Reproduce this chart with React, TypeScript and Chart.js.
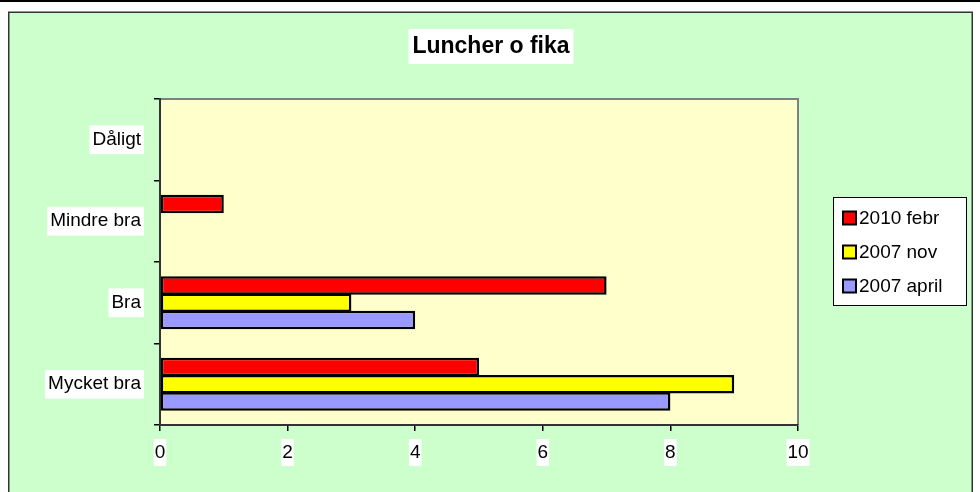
import React, { useEffect, useRef } from 'react';
import { Chart, registerables } from 'chart.js';

Chart.register(...registerables);

const chartTitle = 'Luncher o fika';
const categories = ['Dåligt', 'Mindre bra', 'Bra', 'Mycket bra'];
const seriesNames = ['2010 febr', '2007 nov', '2007 april'];
const febr2010 = [0, 1, 7, 5];
const nov2007 = [0, 0, 3, 9];
const april2007 = [0, 0, 4, 8];
const seriesColors = ['#FF0000', '#FFFF00', '#9999FF'];
const xTicks = [0, 2, 4, 6, 8, 10];

const FONT = 'Arial, "Liberation Sans", sans-serif';

const framePlugin = {
  id: 'excelFrame',
  beforeDraw(chart: any) {
    const { ctx, chartArea: a, width, height } = chart;
    ctx.save();
    ctx.fillStyle = '#ffffff';
    ctx.fillRect(0, 0, width, height);
    ctx.fillStyle = '#000000';
    ctx.fillRect(0, 0, width, 2);
    ctx.fillStyle = '#CCFFCC';
    ctx.fillRect(9, 12, 963, height);
    ctx.strokeStyle = '#333333';
    ctx.lineWidth = 1.5;
    ctx.strokeRect(8.75, 12.25, 963.5, height + 10);
    ctx.fillStyle = '#FFFFCC';
    ctx.fillRect(a.left, a.top, a.right - a.left, a.bottom - a.top);
    ctx.strokeStyle = '#808080';
    ctx.lineWidth = 2;
    ctx.beginPath();
    ctx.moveTo(a.left, a.top);
    ctx.lineTo(a.right, a.top);
    ctx.lineTo(a.right, a.bottom);
    ctx.stroke();
    ctx.restore();
  },
  afterDraw(chart: any) {
    const { ctx } = chart;
    ctx.save();
    // Title
    ctx.font = `bold 23px ${FONT}`;
    const tw = ctx.measureText(chartTitle).width;
    const tcx = 491;
    const tcy = 46;
    ctx.fillStyle = '#ffffff';
    ctx.fillRect(tcx - tw / 2 - 4, 29, tw + 8, 35);
    ctx.fillStyle = '#000000';
    ctx.textAlign = 'center';
    ctx.textBaseline = 'middle';
    ctx.fillText(chartTitle, tcx, tcy + 1);

    // Legend
    const lx = 833, ly = 197, lw = 133, lh = 108;
    ctx.fillStyle = '#ffffff';
    ctx.fillRect(lx, ly, lw, lh);
    ctx.strokeStyle = '#000000';
    ctx.lineWidth = 1;
    ctx.strokeRect(lx + 0.5, ly + 0.5, lw, lh);
    ctx.font = `19px ${FONT}`;
    ctx.textAlign = 'left';
    ctx.textBaseline = 'middle';
    chart.data.datasets.forEach((ds: any, i: number) => {
      const cy = 218 + i * 34;
      ctx.fillStyle = ds.backgroundColor;
      ctx.fillRect(843, cy - 6.5, 13, 13);
      ctx.strokeStyle = '#000000';
      ctx.lineWidth = 2;
      ctx.strokeRect(843, cy - 6.5, 13, 13);
      ctx.fillStyle = '#000000';
      ctx.fillText(ds.label, 859, cy + 1);
    });
    ctx.restore();
  },
};

export default function App() {
  const ref = useRef<HTMLCanvasElement | null>(null);

  useEffect(() => {
    if (!ref.current) return;
    const seriesValues = [febr2010, nov2007, april2007];
    const chart = new Chart(ref.current, {
      type: 'bar',
      data: {
        labels: categories,
        datasets: seriesNames.map((name, i) => ({
          label: name,
          data: seriesValues[i],
          backgroundColor: seriesColors[i],
          borderColor: '#000000',
          borderWidth: (c: any) => (c.raw === 0 ? 0 : 2.5),
          borderSkipped: false,
          categoryPercentage: 0.635,
          barPercentage: 1.08,
        })),
      },
      options: {
        indexAxis: 'y',
        responsive: false,
        animation: false,
        layout: { padding: { left: 0, right: 182, top: 99, bottom: 0 } },
        plugins: {
          legend: { display: false },
          title: { display: false },
          tooltip: { enabled: false },
        },
        scales: {
          x: {
            min: 0,
            max: 10,
            afterBuildTicks: (s: any) => {
              s.ticks = xTicks.map((v) => ({ value: v }));
            },
            afterFit: (s: any) => {
              s.height = 67;
            },
            ticks: {
              color: '#000000',
              font: { family: FONT, size: 19 },
              padding: 10,
              maxRotation: 0,
              showLabelBackdrop: true,
              backdropColor: '#ffffff',
              backdropPadding: { top: 2, bottom: 2, left: 1, right: 1 },
            },
            grid: {
              drawOnChartArea: false,
              drawTicks: true,
              tickLength: 6,
              color: '#000000',
              lineWidth: 1.5,
            },
            border: { display: true, color: '#333333', width: 2 },
          },
          y: {
            afterFit: (s: any) => {
              s.width = 160;
            },
            ticks: {
              color: '#000000',
              font: { family: FONT, size: 19 },
              padding: 13,
              showLabelBackdrop: true,
              backdropColor: '#ffffff',
              backdropPadding: { top: 3, bottom: 3, left: 3, right: 3 },
            },
            grid: {
              offset: true,
              drawOnChartArea: false,
              drawTicks: true,
              tickLength: 6,
              color: '#000000',
              lineWidth: 1.5,
            },
            border: { display: true, color: '#333333', width: 2 },
          },
        },
      },
      plugins: [framePlugin],
    } as any);
    return () => chart.destroy();
  }, []);

  return (
    <div style={{ position: 'absolute', left: 0, top: 0, width: 980, height: 492 }}>
      <canvas ref={ref} width={980} height={492} style={{ display: 'block', width: 980, height: 492 }} />
    </div>
  );
}
